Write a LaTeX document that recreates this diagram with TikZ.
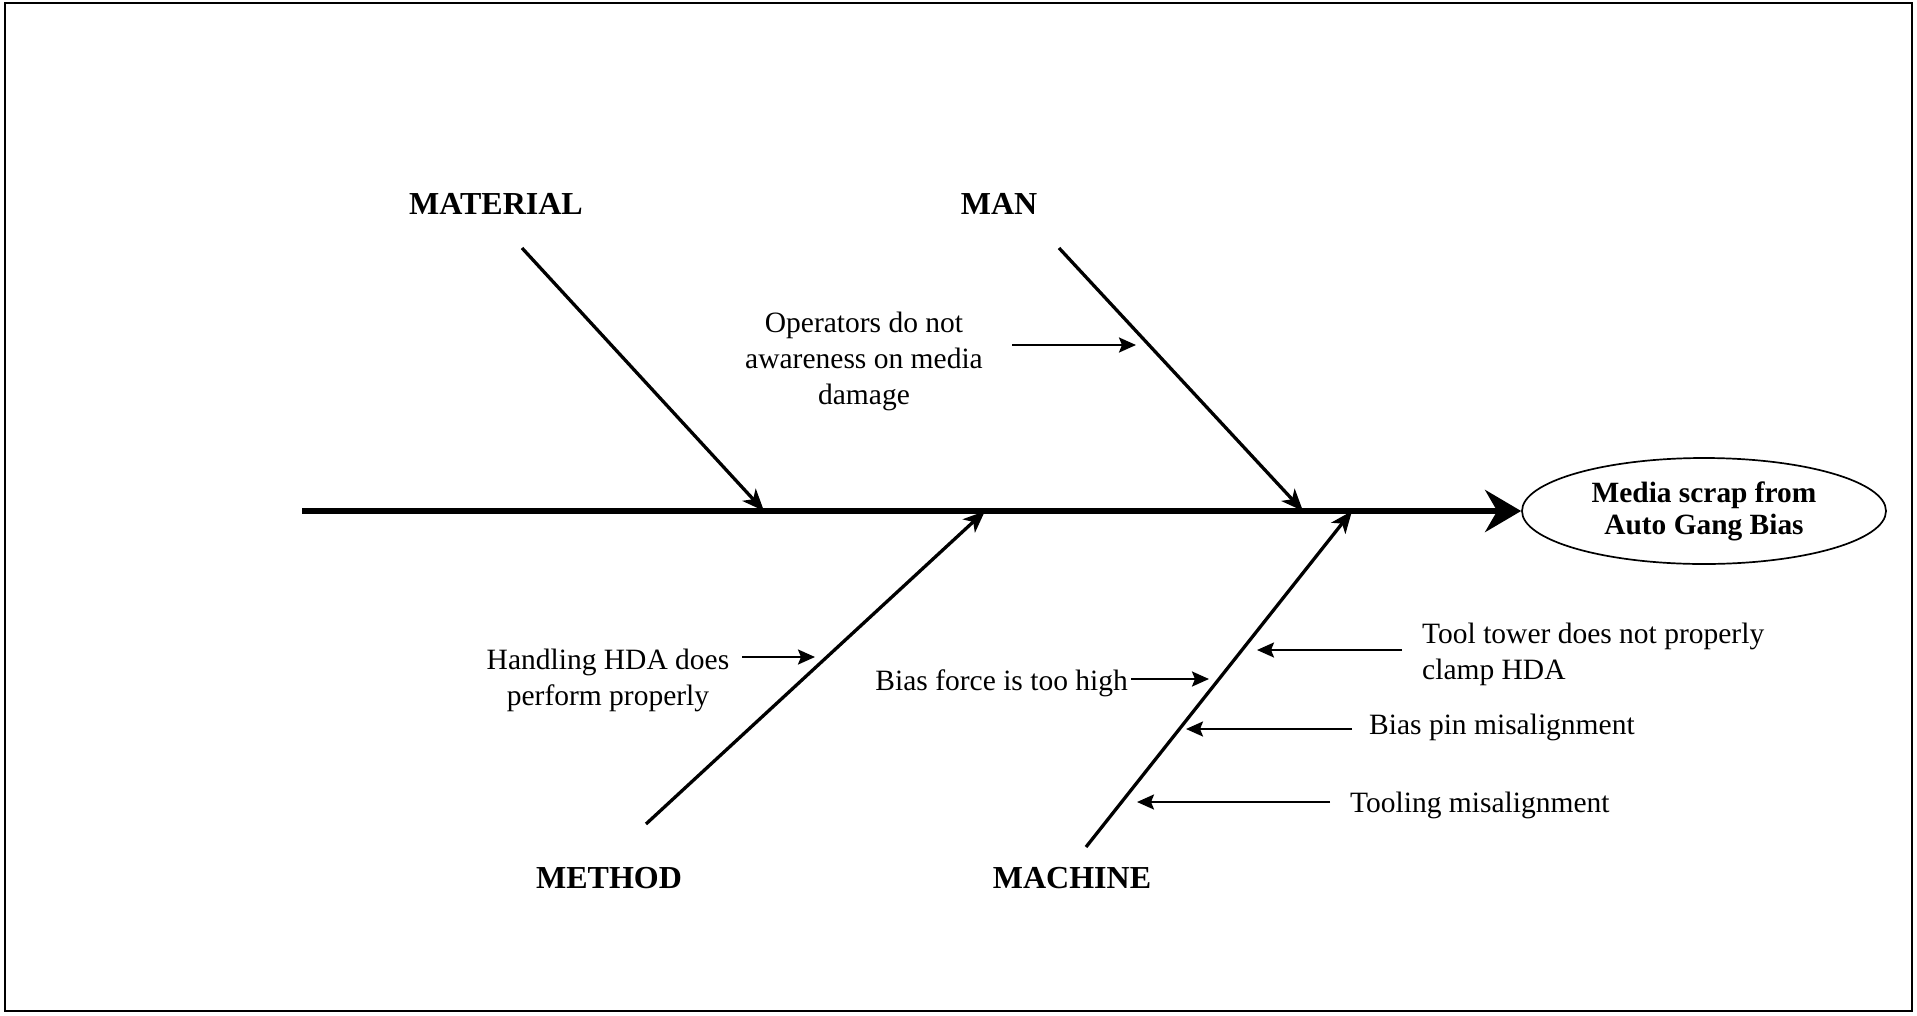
\documentclass[tikz,border=0pt]{standalone}
\usepackage{fontspec}
\setmainfont{Liberation Serif}
\usetikzlibrary{arrows.meta,shapes.geometric}
\begin{document}
\begin{tikzpicture}[x=1pt,y=-1pt,
  spine/.style={line width=6.5pt,-{Stealth[length=36pt,width=42pt,inset=12pt]}},
  bone/.style={line width=3.3pt,-{Stealth[length=22pt,width=18pt,inset=6pt]}},
  cause/.style={line width=2.4pt,-{Stealth[length=17pt,width=15pt,inset=3pt]}},
  catlabel/.style={font=\fontsize{32}{36}\selectfont\bfseries},
  txt/.style={font=\fontsize{29.5}{36}\selectfont, inner sep=0pt},
  effectbox/.style={ellipse, draw, line width=1.7pt, minimum width=364pt, minimum height=106pt, inner sep=0pt, align=center, font=\fontsize{29.4}{32}\selectfont\bfseries}
]
\useasboundingbox (0,0) rectangle (1917,1015);
\draw[line width=2pt] (5,3) rectangle (1912,1011);

% effect
\node[effectbox] (effect) at (1704,511) {Media scrap from\\Auto Gang Bias};

% spine
\coordinate (tail) at (302,511);
\draw[spine] (tail) -- (effect.west);

% category labels
\node[catlabel] (material) at (496,204) {MATERIAL};
\node[catlabel] (man) at (999,204) {MAN};
\node[catlabel] (method) at (609,878) {METHOD};
\node[catlabel] (machine) at (1072,878) {MACHINE};

% bones
\coordinate (matS) at (522,248);
\coordinate (matE) at (764,511);
\coordinate (manS) at (1059,248);
\coordinate (manE) at (1303,511);
\coordinate (metS) at (646,824);
\coordinate (metE) at (985,511);
\coordinate (macS) at (1086,847);
\coordinate (macE) at (1352,511);
\draw[bone] (matS) -- (matE);
\draw[bone] (manS) -- (manE);
\draw[bone] (metS) -- (metE);
\draw[bone] (macS) -- (macE);

% causes
\node[txt, align=center] (c1) at (864,361) {Operators do not\\awareness on media\\damage};
\coordinate (c1a) at (1012,345);
\coordinate (c1b) at (1136,345);
\draw[cause] (c1a) -- (c1b);

\node[txt, align=center] (c2) at (608,680) {Handling HDA does\\perform properly};
\coordinate (c2a) at (742,657);
\coordinate (c2b) at (815,657);
\draw[cause] (c2a) -- (c2b);

\node[txt, anchor=east] (c3) at (1128,683) {Bias force is too high};
\coordinate (c3a) at (1131,679);
\coordinate (c3b) at (1209,679);
\draw[cause] (c3a) -- (c3b);

\node[txt, align=left, anchor=west] (c4) at (1422,654) {Tool tower does not properly\\clamp HDA};
\coordinate (c4a) at (1402,650);
\coordinate (c4b) at (1257,650);
\draw[cause] (c4a) -- (c4b);

\node[txt, anchor=west] (c5) at (1369,727) {Bias pin misalignment};
\coordinate (c5a) at (1352,729);
\coordinate (c5b) at (1186,729);
\draw[cause] (c5a) -- (c5b);

\node[txt, anchor=west] (c6) at (1350,805) {Tooling misalignment};
\coordinate (c6a) at (1330,802);
\coordinate (c6b) at (1137,802);
\draw[cause] (c6a) -- (c6b);
\end{tikzpicture}
\end{document}
